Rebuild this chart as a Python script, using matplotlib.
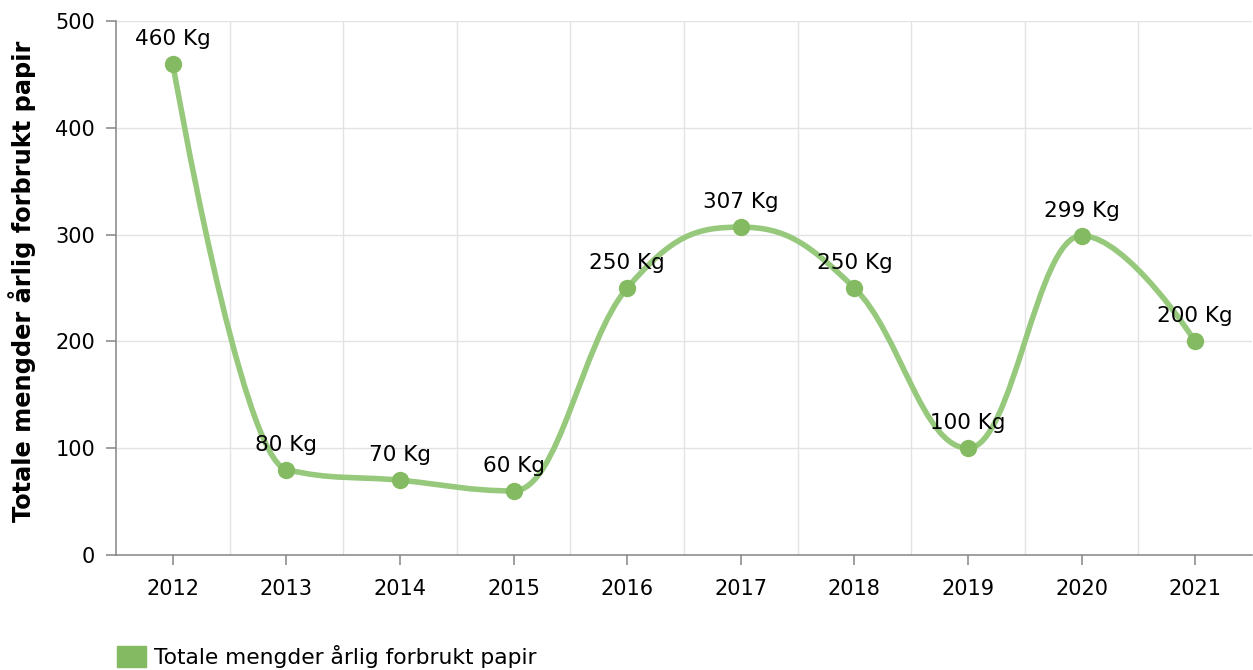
import numpy as np
import matplotlib
matplotlib.use("Agg")
import matplotlib.pyplot as plt
from matplotlib.path import Path
from matplotlib.patches import PathPatch, Patch

plt.rcParams['font.family'] = ['DejaVu Sans']

years = ['2012', '2013', '2014', '2015', '2016', '2017', '2018', '2019', '2020', '2021']
values = [460, 80, 70, 60, 250, 307, 250, 100, 299, 200]
series_name = 'Totale mengder årlig forbrukt papir'
y_label = 'Totale mengder årlig forbrukt papir'

line_col = '#96c97c'
marker_col = '#84bb62'
grid_col = '#e3e3e3'
axis_col = '#858585'


def spline_path(xs, ys, smoothing=1.5):
    # highcharts-like spline: cubic bezier segments with clamped control points
    denom = smoothing + 1
    n = len(xs)
    verts = [(xs[0], ys[0])]
    codes = [Path.MOVETO]
    last_right = (xs[0], ys[0])
    for i in range(1, n):
        px, py = xs[i], ys[i]
        left = (px, py)
        right = (px, py)
        if i < n - 1:
            lx, ly = xs[i - 1], ys[i - 1]
            nx, ny = xs[i + 1], ys[i + 1]
            lcx = (smoothing * px + lx) / denom
            lcy = (smoothing * py + ly) / denom
            rcx = (smoothing * px + nx) / denom
            rcy = (smoothing * py + ny) / denom
            corr = 0
            if rcx != lcx:
                corr = (rcy - lcy) * (rcx - px) / (rcx - lcx) + py - rcy
            lcy += corr
            rcy += corr
            if lcy > ly and lcy > py:
                lcy = max(ly, py)
                rcy = 2 * py - lcy
            elif lcy < ly and lcy < py:
                lcy = min(ly, py)
                rcy = 2 * py - lcy
            if rcy > ny and rcy > py:
                rcy = max(ny, py)
                lcy = 2 * py - rcy
            elif rcy < ny and rcy < py:
                rcy = min(ny, py)
                lcy = 2 * py - rcy
            left = (lcx, lcy)
            right = (rcx, rcy)
        verts += [last_right, left, (px, py)]
        codes += [Path.CURVE4] * 3
        last_right = right
    return Path(verts, codes)


fig = plt.figure(figsize=(12.53, 6.70), dpi=100)
ax = fig.add_axes([116 / 1253, 1 - 555 / 670, 1136 / 1253, 534 / 670])

x = np.arange(len(years))
ax.add_patch(PathPatch(spline_path(x, values), fill=False, edgecolor=line_col,
                       lw=4, capstyle='round', joinstyle='round', zorder=3))
ax.plot(x, values, 'o', color=marker_col, ms=12.5, mec='none', zorder=4)
for xi, v in zip(x, values):
    ax.annotate('%d Kg' % v, (xi, v), xytext=(0, 18), textcoords='offset points',
                ha='center', va='center', fontsize=15.5, color='black', zorder=5)

ax.set_xlim(-0.5, len(years) - 0.5)
ax.set_ylim(0, 500)
ax.set_yticks(range(0, 501, 100))
ax.set_xticks(x)
ax.set_xticklabels(years)
ax.grid(False)
for b in x[:-1] + 0.5:
    ax.axvline(b, color=grid_col, lw=1, zorder=0)
for yv in range(100, 501, 100):
    ax.axhline(yv, color=grid_col, lw=1, zorder=0)

for s in ['top', 'right']:
    ax.spines[s].set_visible(False)
for s in ['left', 'bottom']:
    ax.spines[s].set_color(axis_col)
    ax.spines[s].set_linewidth(1.1)

ax.tick_params(axis='x', length=7, width=1.1, color=axis_col, pad=10, labelsize=15)
ax.tick_params(axis='y', length=7, width=1.1, color=axis_col, pad=8, labelsize=15)
ax.set_ylabel(y_label, fontsize=17.3, fontweight='bold')
ax.yaxis.set_label_coords(-0.0705, 0.513)

fig.legend(handles=[Patch(color=marker_col, label=series_name)], loc='lower left',
           bbox_to_anchor=(115 / 1253, 0.0), frameon=False, fontsize=15.7,
           handlelength=1.3, handleheight=1.1, handletextpad=0.4, borderpad=0.1,
           borderaxespad=0.0)

fig.savefig('out.png', dpi=100)
